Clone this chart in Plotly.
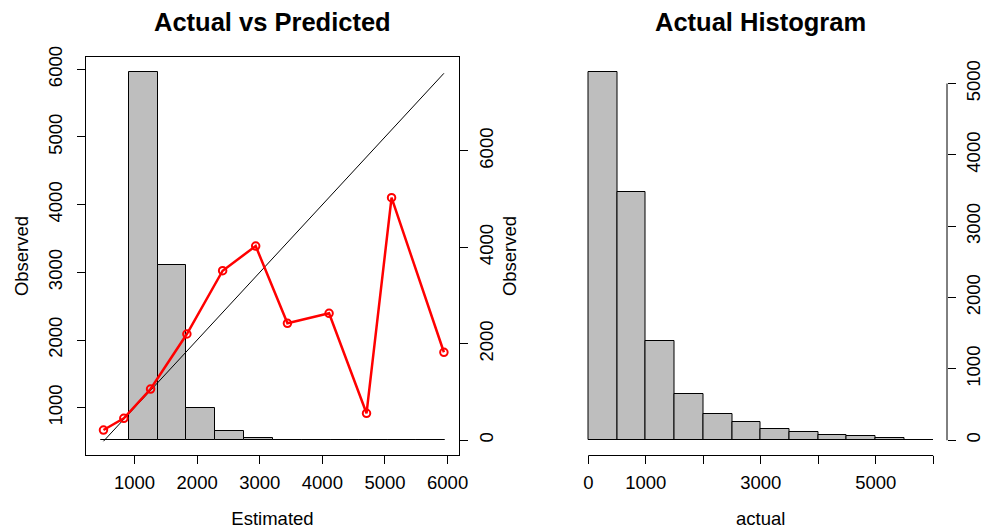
import plotly.graph_objects as go

W, H = 983, 531

# ---- data ----
# Left panel: binned estimated vs observed
est_points = [504, 829, 1256, 1836, 2407, 2935, 3442, 4107, 4705, 5105, 5941]
obs_points = [670, 843, 1276, 2089, 3024, 3389, 2247, 2395, 917, 4103, 1819]

# Left panel histogram of estimated values (bin edges and counts)
est_edges = [467, 904, 1373, 1821, 2285, 2755, 3208, 3672, 4130, 4588, 5045, 5503, 5960]
est_counts = [12, 7640, 3631, 673, 194, 56, 15, 4, 2, 1, 2, 1]

# Right panel histogram of actual values
act_edges = [0, 500, 1000, 1500, 2000, 2500, 3000, 3500, 4000, 4500, 5000, 5500, 6000]
act_counts = [5165, 3483, 1390, 644, 366, 258, 154, 113, 80, 61, 38, 10]

left_x_ticks = [1000, 2000, 3000, 4000, 5000, 6000]
left_y_ticks = [1000, 2000, 3000, 4000, 5000, 6000]
left_y2_ticks = [0, 2000, 4000, 6000]
right_x_ticks = [0, 1000, 2000, 3000, 4000, 5000, 6000]
right_x_labels = ["0", "1000", "", "3000", "", "5000", ""]
right_y_ticks = [0, 1000, 2000, 3000, 4000, 5000]

FONT = "Liberation Sans, Arial, Helvetica, sans-serif"
TICKFONT = dict(family=FONT, size=18.5, color="black")
GRAY = "#BEBEBE"


def px_x(p):
    return p / W


def px_y(p):
    return (H - p) / H


ydom = [px_y(455), px_y(57)]

fig = go.Figure()

# left histogram (base y axis, right side)
fig.add_trace(go.Bar(
    x=[(a + b) / 2 for a, b in zip(est_edges[:-1], est_edges[1:])],
    y=est_counts,
    width=[b - a for a, b in zip(est_edges[:-1], est_edges[1:])],
    marker=dict(color=GRAY, line=dict(color="black", width=1)),
    xaxis="x", yaxis="y", showlegend=False,
))
# diagonal reference line
fig.add_trace(go.Scatter(
    x=est_points, y=est_points, mode="lines",
    line=dict(color="black", width=1),
    xaxis="x", yaxis="y2", showlegend=False,
))
# red observed line
fig.add_trace(go.Scatter(
    x=est_points, y=obs_points, mode="lines+markers",
    line=dict(color="#FF0000", width=2.5),
    marker=dict(symbol="circle-open", size=7.5, color="#FF0000", line=dict(width=2, color="#FF0000")),
    xaxis="x", yaxis="y2", showlegend=False,
))
# right histogram
fig.add_trace(go.Bar(
    x=[(a + b) / 2 for a, b in zip(act_edges[:-1], act_edges[1:])],
    y=act_counts,
    width=[b - a for a, b in zip(act_edges[:-1], act_edges[1:])],
    marker=dict(color=GRAY, line=dict(color="black", width=1)),
    xaxis="x3", yaxis="y3", showlegend=False,
))

common = dict(showgrid=False, zeroline=False, ticks="outside", ticklen=8,
              tickcolor="black", tickwidth=1, tickfont=TICKFONT, automargin=False,
              title_font=dict(family=FONT, size=18.5, color="black"))

fig.update_layout(
    template="none",
    width=W, height=H,
    margin=dict(l=0, r=0, t=0, b=0, pad=0),
    paper_bgcolor="white", plot_bgcolor="white",
    bargap=0,
    xaxis=dict(domain=[px_x(86), px_x(459)], anchor="y", range=[225, 6182],
               tickvals=left_x_ticks, showline=True, mirror=True,
               linecolor="black", linewidth=1, ticklabelstandoff=3,
               title=dict(text="Estimated", standoff=19), **common),
    yaxis=dict(domain=ydom, anchor="x", side="right", range=[-306, 7946],
               tickvals=left_y2_ticks, tickangle=-90, showline=False, ticklabelstandoff=3,
               title=dict(text="Observed", standoff=6), **common),
    yaxis2=dict(overlaying="y", anchor="x", side="left", range=[301, 6182],
                tickvals=left_y_ticks, tickangle=-90, showline=True, mirror=True,
                linecolor="black", linewidth=1, ticklabelstandoff=8,
                title=dict(text="Observed", standoff=11), **common),
    xaxis3=dict(domain=[px_x(574.5), px_x(947)], anchor="y3", range=[-240, 6240],
                tickvals=right_x_ticks, ticktext=right_x_labels, showline=False,
                ticklabelstandoff=3,
                title=dict(text="actual", standoff=19), **common),
    yaxis3=dict(domain=ydom, anchor="x3", side="right", range=[-207, 5372],
                tickvals=right_y_ticks, tickangle=-90, showline=False,
                ticklabelstandoff=2, **common),
    shapes=[
        dict(type="line", xref="x3", yref="paper",
             x0=right_x_ticks[0], x1=right_x_ticks[-1], y0=px_y(455.5), y1=px_y(455.5),
             line=dict(color="black", width=1)),
        dict(type="line", xref="paper", yref="y3",
             x0=px_x(947), x1=px_x(947), y0=right_y_ticks[0], y1=right_y_ticks[-1],
             line=dict(color="black", width=1)),
    ],
    annotations=[
        dict(text="<b>Actual vs Predicted</b>", x=(px_x(86) + px_x(459)) / 2, y=px_y(22),
             xref="paper", yref="paper", showarrow=False, xanchor="center", yanchor="middle",
             font=dict(family=FONT, size=25.5, color="black")),
        dict(text="<b>Actual Histogram</b>", x=(px_x(574.5) + px_x(947)) / 2, y=px_y(22),
             xref="paper", yref="paper", showarrow=False, xanchor="center", yanchor="middle",
             font=dict(family=FONT, size=25.5, color="black")),
    ],
)

fig.write_html("out.html")
